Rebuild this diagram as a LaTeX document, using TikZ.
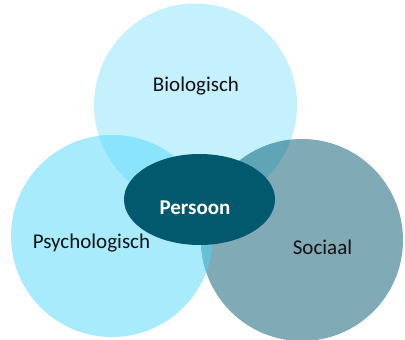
\documentclass[tikz,border=0pt]{standalone}
\usepackage{fontspec}
\setmainfont{Carlito}
\usetikzlibrary{shapes.geometric}
\definecolor{ctop}{HTML}{C4F1FD}
\definecolor{cleft}{HTML}{A8EBFC}
\definecolor{cright}{HTML}{80AAB6}
\definecolor{ctl}{HTML}{8AE5FC}
\definecolor{ctr}{HTML}{60A5B5}
\definecolor{clr}{HTML}{68C0D6}
\definecolor{cpers}{HTML}{02586D}
\definecolor{ctext}{HTML}{111111}
\tikzset{
  lbl/.style={anchor=base, font=\fontsize{21}{24}\selectfont, text=ctext, inner sep=0pt},
}
\begin{document}
\begin{tikzpicture}[x=1pt,y=-1pt]
\useasboundingbox (0,0) rectangle (405,340);
\fill[white] (0,0) rectangle (405,340);
\def\topc{(195.5,105) circle[radius=101.5]}
\def\leftc{(112,236) circle[radius=101]}
\def\rightc{(302,240) circle[radius=101]}
\fill[ctop] \topc;
\fill[cleft] \leftc;
\fill[cright] \rightc;
\begin{scope}
  \clip \topc;
  \fill[ctl] \leftc;
\end{scope}
\begin{scope}
  \clip \topc;
  \fill[ctr] \rightc;
\end{scope}
\begin{scope}
  \clip \leftc;
  \fill[clr] \rightc;
\end{scope}
\node[ellipse, fill=cpers, minimum width=151pt, minimum height=91pt, inner sep=0pt] (pers) at (199.5,199.5) {};
\node[lbl, text=white, font=\fontsize{21}{24}\selectfont\bfseries] (perst) at (195,214) {Persoon};
\node[lbl] (bio) at (196,91) {Biologisch};
\node[lbl] (psy) at (91.5,248) {Psychologisch};
\node[lbl] (soc) at (322.5,254) {Sociaal};
\end{tikzpicture}
\end{document}
